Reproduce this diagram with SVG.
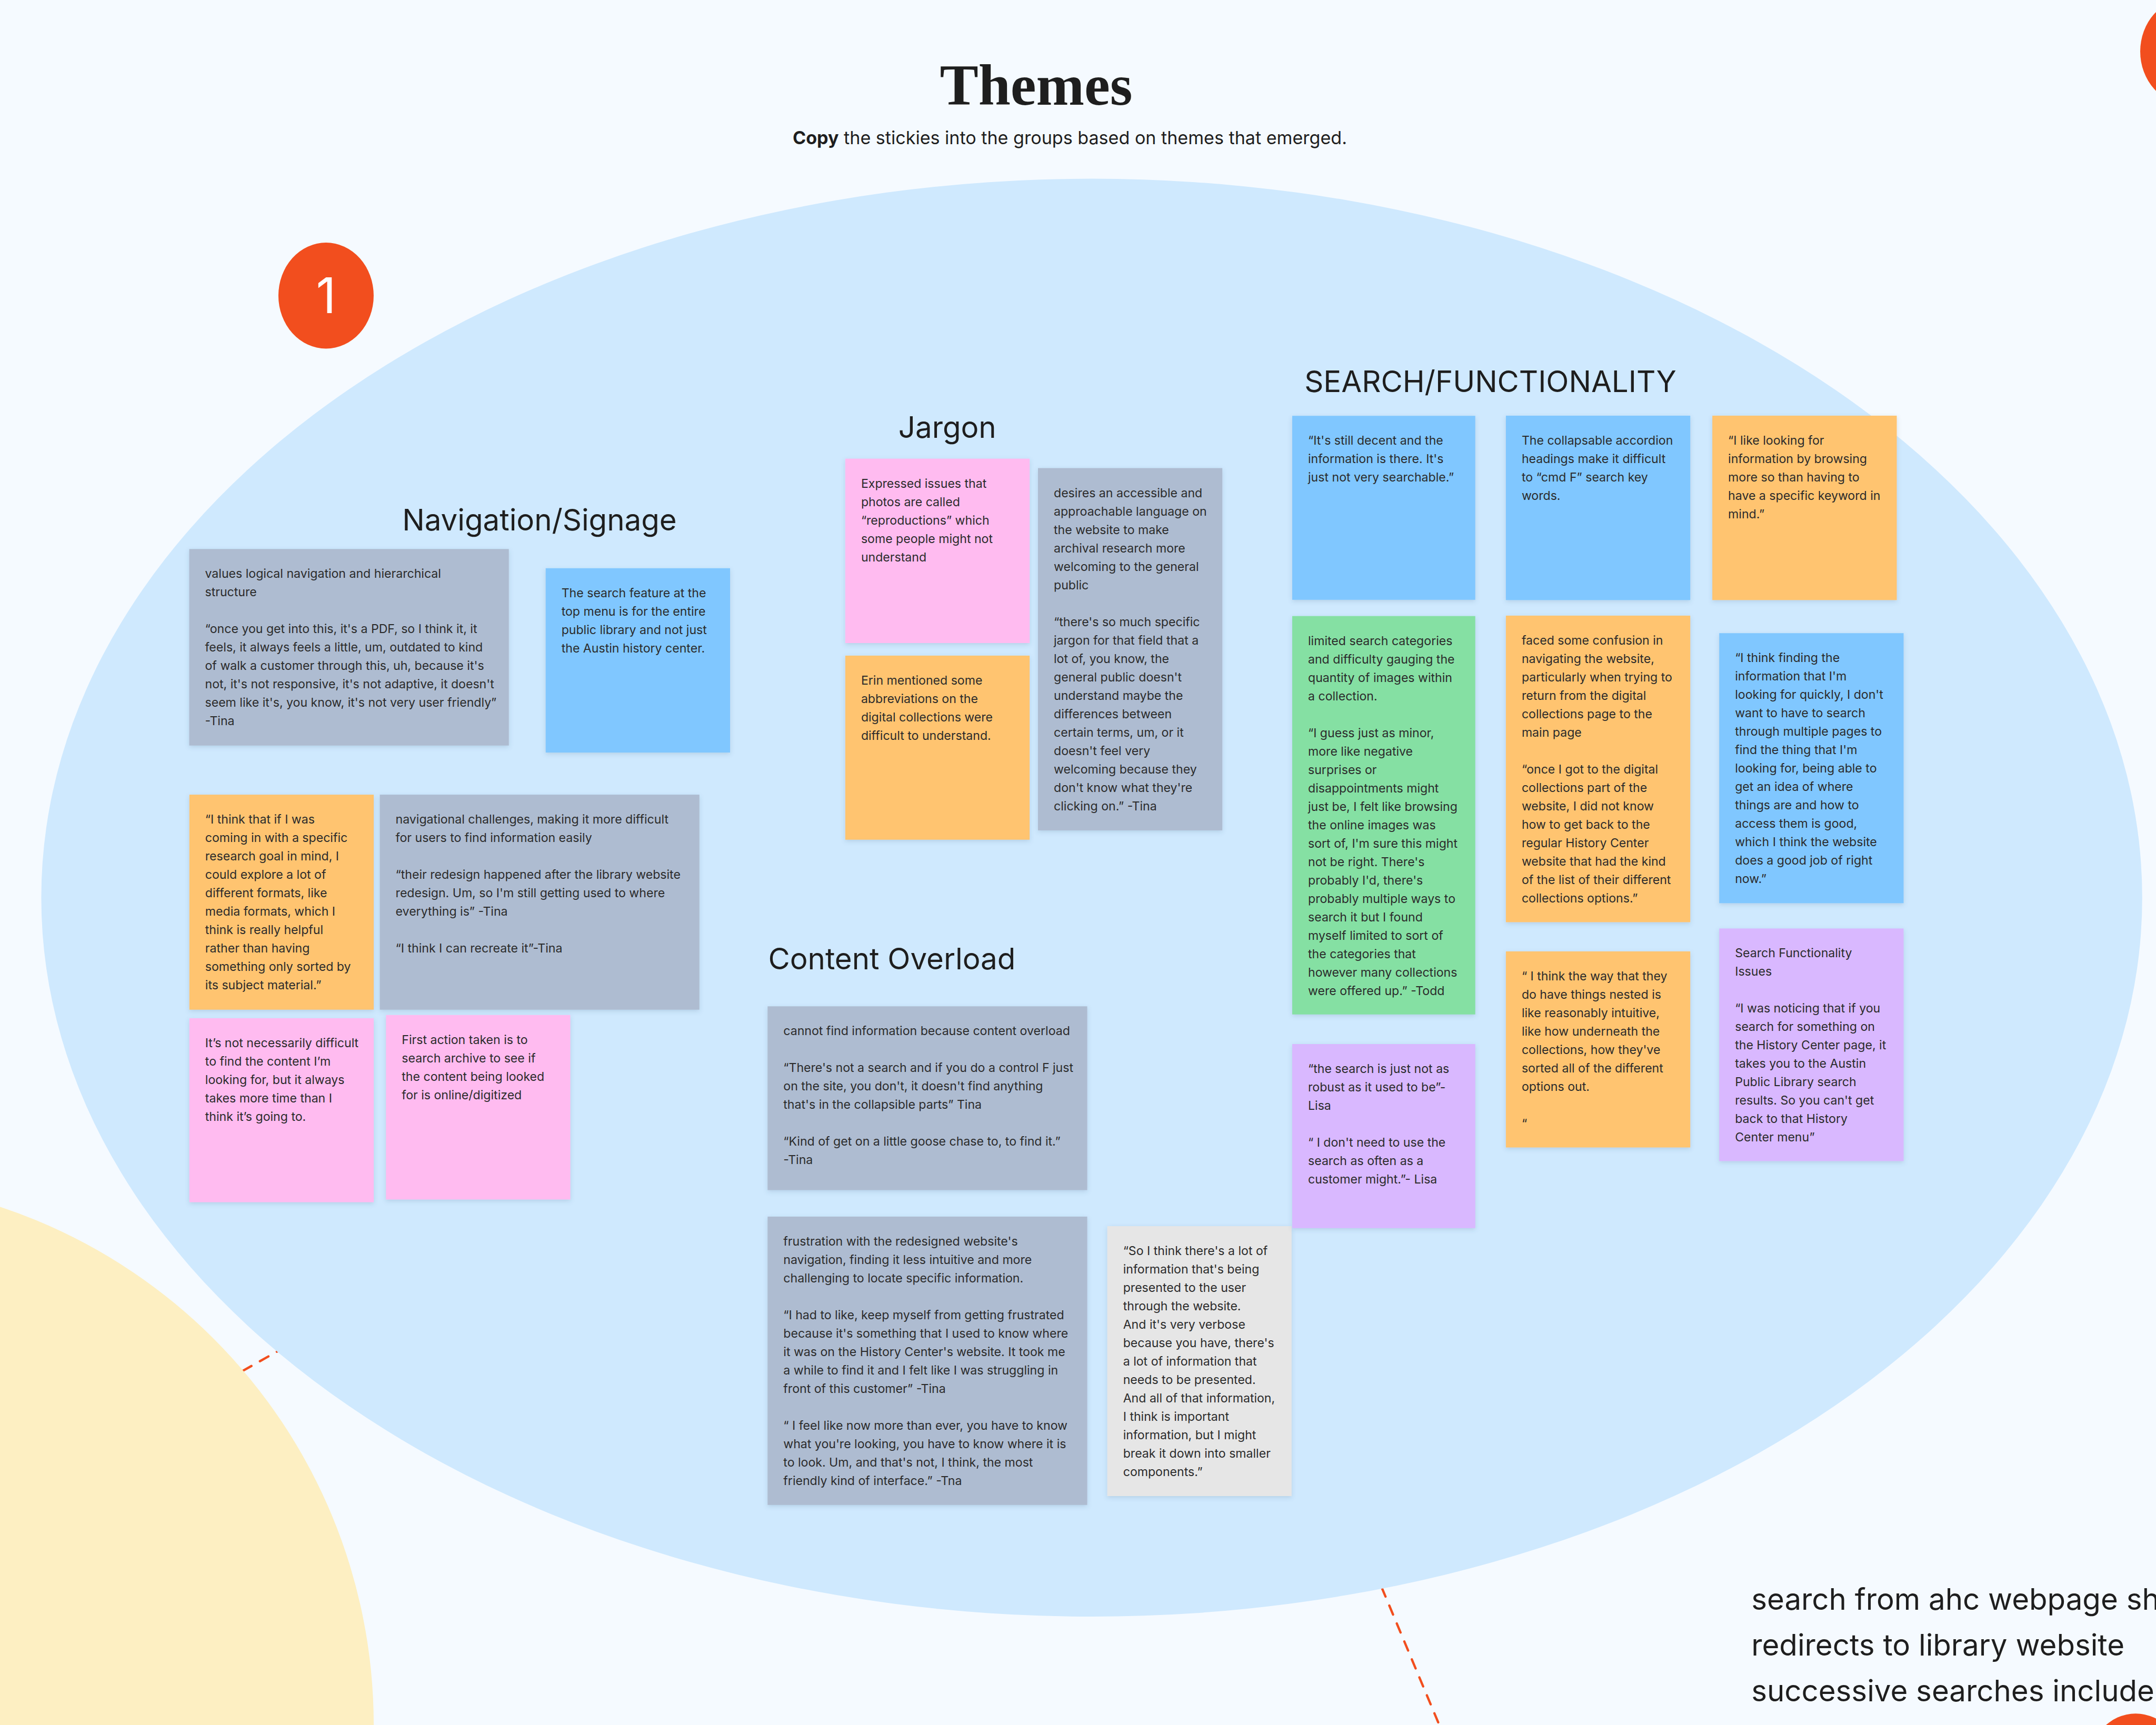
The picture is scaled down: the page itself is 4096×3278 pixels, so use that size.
<svg xmlns="http://www.w3.org/2000/svg" width="4096" height="3278" viewBox="0 0 4096 3278">
<defs>
<filter id="sh" x="-10%" y="-10%" width="120%" height="125%">
<feDropShadow dx="0" dy="3" stdDeviation="4" flood-color="#3a5a80" flood-opacity="0.18"/>
</filter>
<style>
.t{font-family:Inter,"Noto Sans","Liberation Sans",sans-serif;font-size:23.1px;fill:#2b2b2b}
.h{font-family:Inter,"Noto Sans","Liberation Sans",sans-serif;font-size:56.4px;fill:#1e1e1e}
.st{filter:url(#sh)}
.gray{fill:#AEBCD1}.blue{fill:#80C7FF}.orange{fill:#FFC470}.pink{fill:#FFBBF0}.green{fill:#85E0A3}.purple{fill:#D9B8FF}.light{fill:#E6E6E6}
.dash{fill:none;stroke:#F24E1E;stroke-width:4.4;stroke-linecap:round;stroke-dasharray:18.6 18.4}
.badge{fill:#F24E1E}
</style>
</defs>
<rect x="0" y="0" width="4096" height="3278" fill="#F5FAFF"/>
<g id="connectors">
<line class="dash" x1="2553.6" y1="2846.2" x2="2752" y2="3320"/>
<line class="dash" x1="364.8" y1="2659.4" x2="605.6" y2="2523.7"/>
</g>
<g id="yellow-area"><circle cx="-328" cy="3278" r="1038" fill="#FDEFC2"/></g>
<g id="theme-area"><ellipse cx="2074.1" cy="1705.8" rx="1995.7" ry="1366.2" fill="#CFE9FE"/></g>
<g id="badge-1"><ellipse class="badge" cx="619.4" cy="561.8" rx="90.5" ry="100.7"/>
<text x="619.4" y="595.4" text-anchor="middle" font-family="Inter,'Noto Sans',sans-serif" font-size="93" fill="#ffffff">1</text></g>
<g id="badge-top-right"><ellipse class="badge" cx="4156.5" cy="97.8" rx="90.5" ry="100.7"/></g>
<g id="badge-bottom-right"><ellipse class="badge" cx="4057.3" cy="3356.9" rx="90.5" ry="100.7"/></g>
<g id="title">
<text x="1968.5" y="198.5" text-anchor="middle" font-family="'Liberation Serif',serif" font-weight="700" font-size="110" fill="#1e1e1e" textLength="366" lengthAdjust="spacingAndGlyphs">Themes</text>
<text x="2032.5" y="273.7" text-anchor="middle" font-family="Inter,'Noto Sans',sans-serif" font-size="34.1" fill="#1e1e1e"><tspan font-weight="700">Copy</tspan> the stickies into the groups based on themes that emerged.</text>
</g>
<g id="heading-navigation"><text class="h" x="764.3" y="1007.6">Navigation/Signage</text></g>
<g id="heading-jargon"><text class="h" x="1706.8" y="832">Jargon</text></g>
<g id="heading-content"><text class="h" x="1459.6" y="1842.3">Content Overload</text></g>
<g id="heading-search"><text class="h" x="2478.2" y="745.4">SEARCH/FUNCTIONALITY</text></g>

<g id="nav-1"><rect class="st gray" x="359.5" y="1043.3" width="607.2" height="373.4"/>
<text class="t"><tspan x="389.5" y="1098.3">values logical navigation and hierarchical</tspan><tspan x="389.5" y="1133.3">structure</tspan><tspan x="389.5" y="1203.3">“once you get into this, it's a PDF, so I think it, it</tspan><tspan x="389.5" y="1238.3">feels, it always feels a little, um, outdated to kind</tspan><tspan x="389.5" y="1273.3">of walk a customer through this, uh, because it's</tspan><tspan x="389.5" y="1308.3">not, it's not responsive, it's not adaptive, it doesn't</tspan><tspan x="389.5" y="1343.3">seem like it's, you know, it's not very user friendly”</tspan><tspan x="389.5" y="1378.3">-Tina</tspan></text></g>

<g id="nav-2"><rect class="st blue" x="1036.7" y="1079.8" width="350.3" height="350.2"/>
<text class="t"><tspan x="1066.7" y="1134.8">The search feature at the</tspan><tspan x="1066.7" y="1169.8">top menu is for the entire</tspan><tspan x="1066.7" y="1204.8">public library and not just</tspan><tspan x="1066.7" y="1239.8">the Austin history center.</tspan></text></g>

<g id="nav-3"><rect class="st orange" x="359.8" y="1510.1" width="350.2" height="408.6"/>
<text class="t"><tspan x="389.8" y="1565.1">“I think that if I was</tspan><tspan x="389.8" y="1600.1">coming in with a specific</tspan><tspan x="389.8" y="1635.1">research goal in mind, I</tspan><tspan x="389.8" y="1670.1">could explore a lot of</tspan><tspan x="389.8" y="1705.1">different formats, like</tspan><tspan x="389.8" y="1740.1">media formats, which I</tspan><tspan x="389.8" y="1775.1">think is really helpful</tspan><tspan x="389.8" y="1810.1">rather than having</tspan><tspan x="389.8" y="1845.1">something only sorted by</tspan><tspan x="389.8" y="1880.1">its subject material.”</tspan></text></g>

<g id="nav-4"><rect class="st gray" x="721.6" y="1510.1" width="607.1" height="408.6"/>
<text class="t"><tspan x="751.6" y="1565.1">navigational challenges, making it more difficult</tspan><tspan x="751.6" y="1600.1">for users to find information easily</tspan><tspan x="751.6" y="1670.1">“their redesign happened after the library website</tspan><tspan x="751.6" y="1705.1">redesign. Um, so I'm still getting used to where</tspan><tspan x="751.6" y="1740.1">everything is” -Tina</tspan><tspan x="751.6" y="1810.1">“I think I can recreate it”-Tina</tspan></text></g>

<g id="nav-5"><rect class="st pink" x="359.8" y="1934.9" width="350.2" height="349.6"/>
<text class="t"><tspan x="389.8" y="1989.9">It’s not necessarily difficult</tspan><tspan x="389.8" y="2024.9">to find the content I’m</tspan><tspan x="389.8" y="2059.9">looking for, but it always</tspan><tspan x="389.8" y="2094.9">takes more time than I</tspan><tspan x="389.8" y="2129.9">think it’s going to.</tspan></text></g>

<g id="nav-6"><rect class="st pink" x="733.3" y="1928.8" width="350.2" height="350.6"/>
<text class="t"><tspan x="763.3" y="1983.8">First action taken is to</tspan><tspan x="763.3" y="2018.8">search archive to see if</tspan><tspan x="763.3" y="2053.8">the content being looked</tspan><tspan x="763.3" y="2088.8">for is online/digitized</tspan></text></g>

<g id="jargon-1"><rect class="st pink" x="1605.9" y="871.6" width="350.2" height="350.4"/>
<text class="t"><tspan x="1635.9" y="926.6">Expressed issues that</tspan><tspan x="1635.9" y="961.6">photos are called</tspan><tspan x="1635.9" y="996.6">“reproductions” which</tspan><tspan x="1635.9" y="1031.6">some people might not</tspan><tspan x="1635.9" y="1066.6">understand</tspan></text></g>

<g id="jargon-2"><rect class="st orange" x="1605.9" y="1245.9" width="350.2" height="349.8"/>
<text class="t"><tspan x="1635.9" y="1300.9">Erin mentioned some</tspan><tspan x="1635.9" y="1335.9">abbreviations on the</tspan><tspan x="1635.9" y="1370.9">digital collections were</tspan><tspan x="1635.9" y="1405.9">difficult to understand.</tspan></text></g>

<g id="jargon-3"><rect class="st gray" x="1972" y="889.5" width="350.2" height="688.4"/>
<text class="t"><tspan x="2002" y="944.5">desires an accessible and</tspan><tspan x="2002" y="979.5">approachable language on</tspan><tspan x="2002" y="1014.5">the website to make</tspan><tspan x="2002" y="1049.5">archival research more</tspan><tspan x="2002" y="1084.5">welcoming to the general</tspan><tspan x="2002" y="1119.5">public</tspan><tspan x="2002" y="1189.5">“there's so much specific</tspan><tspan x="2002" y="1224.5">jargon for that field that a</tspan><tspan x="2002" y="1259.5">lot of, you know, the</tspan><tspan x="2002" y="1294.5">general public doesn't</tspan><tspan x="2002" y="1329.5">understand maybe the</tspan><tspan x="2002" y="1364.5">differences between</tspan><tspan x="2002" y="1399.5">certain terms, um, or it</tspan><tspan x="2002" y="1434.5">doesn't feel very</tspan><tspan x="2002" y="1469.5">welcoming because they</tspan><tspan x="2002" y="1504.5">don't know what they're</tspan><tspan x="2002" y="1539.5">clicking on.” -Tina</tspan></text></g>

<g id="content-1"><rect class="st gray" x="1458.3" y="1912.3" width="607.2" height="349.2"/>
<text class="t"><tspan x="1488.3" y="1967.3">cannot find information because content overload</tspan><tspan x="1488.3" y="2037.3">“There's not a search and if you do a control F just</tspan><tspan x="1488.3" y="2072.3">on the site, you don't, it doesn't find anything</tspan><tspan x="1488.3" y="2107.3">that's in the collapsible parts” Tina</tspan><tspan x="1488.3" y="2177.3">“Kind of get on a little goose chase to, to find it.”</tspan><tspan x="1488.3" y="2212.3">-Tina</tspan></text></g>

<g id="content-2"><rect class="st gray" x="1458.3" y="2311.9" width="607.2" height="547.9"/>
<text class="t"><tspan x="1488.3" y="2366.9">frustration with the redesigned website's</tspan><tspan x="1488.3" y="2401.9">navigation, finding it less intuitive and more</tspan><tspan x="1488.3" y="2436.9">challenging to locate specific information.</tspan><tspan x="1488.3" y="2506.9">“I had to like, keep myself from getting frustrated</tspan><tspan x="1488.3" y="2541.9">because it's something that I used to know where</tspan><tspan x="1488.3" y="2576.9">it was on the History Center's website. It took me</tspan><tspan x="1488.3" y="2611.9">a while to find it and I felt like I was struggling in</tspan><tspan x="1488.3" y="2646.9">front of this customer” -Tina</tspan><tspan x="1488.3" y="2716.9">“ I feel like now more than ever, you have to know</tspan><tspan x="1488.3" y="2751.9">what you're looking, you have to know where it is</tspan><tspan x="1488.3" y="2786.9">to look. Um, and that's not, I think, the most</tspan><tspan x="1488.3" y="2821.9">friendly kind of interface.” -Tna</tspan></text></g>

<g id="content-3"><rect class="st light" x="2103.7" y="2330" width="350.1" height="513"/>
<text class="t"><tspan x="2133.7" y="2385">“So I think there's a lot of</tspan><tspan x="2133.7" y="2420">information that's being</tspan><tspan x="2133.7" y="2455">presented to the user</tspan><tspan x="2133.7" y="2490">through the website.</tspan><tspan x="2133.7" y="2525">And it's very verbose</tspan><tspan x="2133.7" y="2560">because you have, there's</tspan><tspan x="2133.7" y="2595">a lot of information that</tspan><tspan x="2133.7" y="2630">needs to be presented.</tspan><tspan x="2133.7" y="2665">And all of that information,</tspan><tspan x="2133.7" y="2700">I think is important</tspan><tspan x="2133.7" y="2735">information, but I might</tspan><tspan x="2133.7" y="2770">break it down into smaller</tspan><tspan x="2133.7" y="2805">components.”</tspan></text></g>

<g id="search-1"><rect class="st blue" x="2455" y="790.2" width="347.7" height="349.6"/>
<text class="t"><tspan x="2485" y="845.2">“It's still decent and the</tspan><tspan x="2485" y="880.2">information is there. It's</tspan><tspan x="2485" y="915.2">just not very searchable.”</tspan></text></g>

<g id="search-2"><rect class="st green" x="2455" y="1170.7" width="347.7" height="757"/>
<text class="t"><tspan x="2485" y="1225.7">limited search categories</tspan><tspan x="2485" y="1260.7">and difficulty gauging the</tspan><tspan x="2485" y="1295.7">quantity of images within</tspan><tspan x="2485" y="1330.7">a collection.</tspan><tspan x="2485" y="1400.7">“I guess just as minor,</tspan><tspan x="2485" y="1435.7">more like negative</tspan><tspan x="2485" y="1470.7">surprises or</tspan><tspan x="2485" y="1505.7">disappointments might</tspan><tspan x="2485" y="1540.7">just be, I felt like browsing</tspan><tspan x="2485" y="1575.7">the online images was</tspan><tspan x="2485" y="1610.7">sort of, I'm sure this might</tspan><tspan x="2485" y="1645.7">not be right. There's</tspan><tspan x="2485" y="1680.7">probably I'd, there's</tspan><tspan x="2485" y="1715.7">probably multiple ways to</tspan><tspan x="2485" y="1750.7">search it but I found</tspan><tspan x="2485" y="1785.7">myself limited to sort of</tspan><tspan x="2485" y="1820.7">the categories that</tspan><tspan x="2485" y="1855.7">however many collections</tspan><tspan x="2485" y="1890.7">were offered up.” -Todd</tspan></text></g>

<g id="search-3"><rect class="st purple" x="2455" y="1984" width="347.7" height="349.8"/>
<text class="t"><tspan x="2485" y="2039">“the search is just not as</tspan><tspan x="2485" y="2074">robust as it used to be”-</tspan><tspan x="2485" y="2109">Lisa</tspan><tspan x="2485" y="2179">“ I don't need to use the</tspan><tspan x="2485" y="2214">search as often as a</tspan><tspan x="2485" y="2249">customer might.”- Lisa</tspan></text></g>

<g id="search-4"><rect class="st blue" x="2860.9" y="789.9" width="350.3" height="350.4"/>
<text class="t"><tspan x="2890.9" y="844.9">The collapsable accordion</tspan><tspan x="2890.9" y="879.9">headings make it difficult</tspan><tspan x="2890.9" y="914.9">to “cmd F” search key</tspan><tspan x="2890.9" y="949.9">words.</tspan></text></g>

<g id="search-5"><rect class="st orange" x="3253.1" y="789.9" width="350.4" height="350.4"/>
<text class="t"><tspan x="3283.1" y="844.9">“I like looking for</tspan><tspan x="3283.1" y="879.9">information by browsing</tspan><tspan x="3283.1" y="914.9">more so than having to</tspan><tspan x="3283.1" y="949.9">have a specific keyword in</tspan><tspan x="3283.1" y="984.9">mind.”</tspan></text></g>

<g id="search-6"><rect class="st orange" x="2860.9" y="1169.9" width="350.3" height="582.5"/>
<text class="t"><tspan x="2890.9" y="1224.9">faced some confusion in</tspan><tspan x="2890.9" y="1259.9">navigating the website,</tspan><tspan x="2890.9" y="1294.9">particularly when trying to</tspan><tspan x="2890.9" y="1329.9">return from the digital</tspan><tspan x="2890.9" y="1364.9">collections page to the</tspan><tspan x="2890.9" y="1399.9">main page</tspan><tspan x="2890.9" y="1469.9">“once I got to the digital</tspan><tspan x="2890.9" y="1504.9">collections part of the</tspan><tspan x="2890.9" y="1539.9">website, I did not know</tspan><tspan x="2890.9" y="1574.9">how to get back to the</tspan><tspan x="2890.9" y="1609.9">regular History Center</tspan><tspan x="2890.9" y="1644.9">website that had the kind</tspan><tspan x="2890.9" y="1679.9">of the list of their different</tspan><tspan x="2890.9" y="1714.9">collections options.”</tspan></text></g>

<g id="search-7"><rect class="st blue" x="3266.2" y="1203.2" width="350.3" height="513.1"/>
<text class="t"><tspan x="3296.2" y="1258.2">“I think finding the</tspan><tspan x="3296.2" y="1293.2">information that I'm</tspan><tspan x="3296.2" y="1328.2">looking for quickly, I don't</tspan><tspan x="3296.2" y="1363.2">want to have to search</tspan><tspan x="3296.2" y="1398.2">through multiple pages to</tspan><tspan x="3296.2" y="1433.2">find the thing that I'm</tspan><tspan x="3296.2" y="1468.2">looking for, being able to</tspan><tspan x="3296.2" y="1503.2">get an idea of where</tspan><tspan x="3296.2" y="1538.2">things are and how to</tspan><tspan x="3296.2" y="1573.2">access them is good,</tspan><tspan x="3296.2" y="1608.2">which I think the website</tspan><tspan x="3296.2" y="1643.2">does a good job of right</tspan><tspan x="3296.2" y="1678.2">now.”</tspan></text></g>

<g id="search-8"><rect class="st orange" x="2860.9" y="1807.9" width="350.3" height="372.6"/>
<text class="t"><tspan x="2890.9" y="1862.9">“ I think the way that they</tspan><tspan x="2890.9" y="1897.9">do have things nested is</tspan><tspan x="2890.9" y="1932.9">like reasonably intuitive,</tspan><tspan x="2890.9" y="1967.9">like how underneath the</tspan><tspan x="2890.9" y="2002.9">collections, how they've</tspan><tspan x="2890.9" y="2037.9">sorted all of the different</tspan><tspan x="2890.9" y="2072.9">options out.</tspan><tspan x="2890.9" y="2142.9">“</tspan></text></g>

<g id="search-9"><rect class="st purple" x="3266.2" y="1764.4" width="350.3" height="442"/>
<text class="t"><tspan x="3296.2" y="1819.4">Search Functionality</tspan><tspan x="3296.2" y="1854.4">Issues</tspan><tspan x="3296.2" y="1924.4">“I was noticing that if you</tspan><tspan x="3296.2" y="1959.4">search for something on</tspan><tspan x="3296.2" y="1994.4">the History Center page, it</tspan><tspan x="3296.2" y="2029.4">takes you to the Austin</tspan><tspan x="3296.2" y="2064.4">Public Library search</tspan><tspan x="3296.2" y="2099.4">results. So you can't get</tspan><tspan x="3296.2" y="2134.4">back to that History</tspan><tspan x="3296.2" y="2169.4">Center menu”</tspan></text></g>

<g id="note-search-redirect"><text class="h" font-size="56.2"><tspan x="3327.2" y="3059.2">search from ahc webpage sh</tspan><tspan x="3327.2" y="3146.2">redirects to library website</tspan><tspan x="3327.2" y="3233.1">successive searches include</tspan></text></g>
</svg>
